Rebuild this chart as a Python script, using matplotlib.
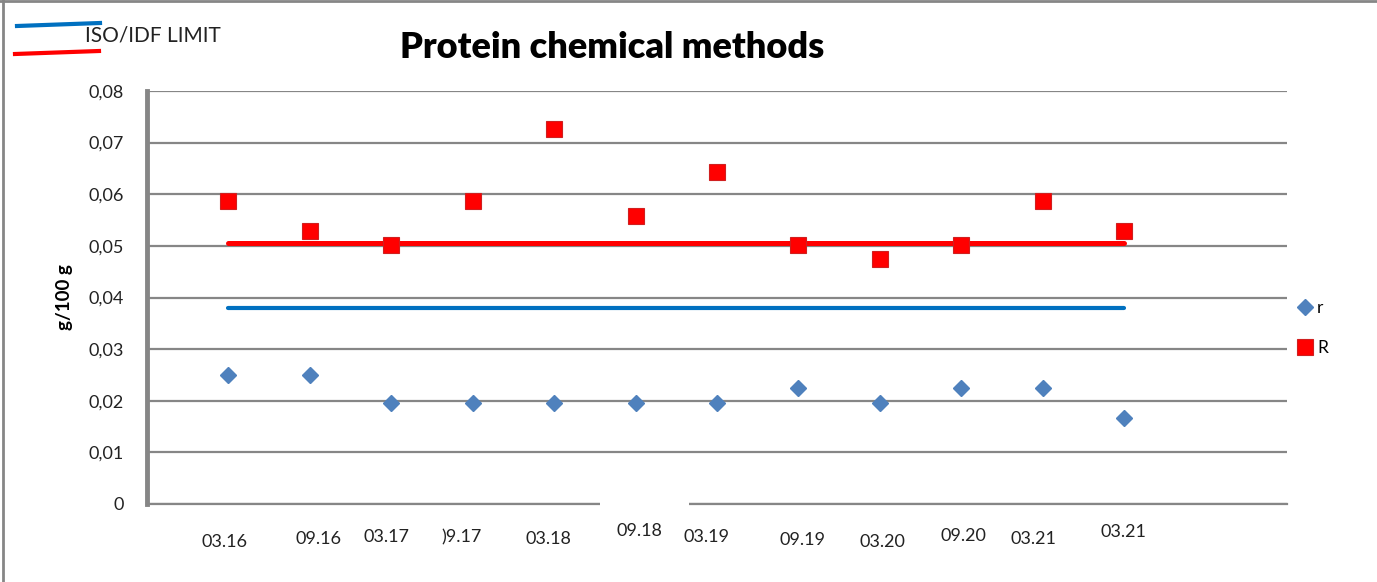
import numpy as np
import matplotlib
matplotlib.use("Agg")
import matplotlib.pyplot as plt
from matplotlib.lines import Line2D
from matplotlib.patches import Rectangle

plt.rcParams['font.family'] = ['Lato', 'DejaVu Sans']

# data
labels = ["03.16", "09.16", "03.17", ")9.17", "03.18", "09.18",
          "03.19", "09.19", "03.20", "09.20", "03.21", "03.21"]
r_vals = [0.0250, 0.0250, 0.0196, 0.0196, 0.0196, 0.0196,
          0.0196, 0.0225, 0.0196, 0.0225, 0.0225, 0.0167]
R_vals = [0.0587, 0.0529, 0.0502, 0.0587, 0.0727, 0.0558,
          0.0643, 0.0502, 0.0475, 0.0502, 0.0587, 0.0529]
r_limit = 0.038
R_limit = 0.0505
yticks = [0, 0.01, 0.02, 0.03, 0.04, 0.05, 0.06, 0.07, 0.08]

# hand placed category labels (pixel centres in the original)
lab_px = [224, 318, 387, 462, 548, 639, 707, 803, 882, 963, 1033, 1123]
lab_py = [542, 539, 537, 537, 539, 531, 537, 540, 542, 536, 539, 532]

W, H = 1377, 582
def fx(x):
    return x / W
def fy(y):
    return 1 - y / H

fig = plt.figure(figsize=(W / 100, H / 100), dpi=100)
ax = fig.add_axes([fx(147), fy(504), (1287 - 147) / W, (504 - 91) / H])

x = np.arange(1, len(labels) + 1)
grey = '#868686'

ax.plot(x, r_vals, 'D', color='#4F81BD', ms=8, mec='#4F81BD', ls='none', zorder=4, label='r')
ax.plot(x, R_vals, 's', color='#FF0000', ms=12, mec='#D02020', mew=0.8, ls='none', zorder=4, label='R')
ax.plot([x[0], x[-1]], [R_limit, R_limit], color='#FF0000', lw=3.6, solid_capstyle='round', zorder=3)
ax.plot([x[0], x[-1]], [r_limit, r_limit], color='#0070C0', lw=3.0, solid_capstyle='round', zorder=3)

ax.set_xlim(0, 14)
ax.set_ylim(0, 0.08)
ax.set_yticks(yticks)
ax.set_yticklabels(['0' if v == 0 else ('%.2f' % v).replace('.', ',') for v in yticks])
ax.set_xticks([])
ax.tick_params(axis='y', length=0, pad=17, labelsize=13, labelcolor='#222222')
ax.yaxis.grid(True, color=grey, lw=1.6)
ax.set_axisbelow(True)
for s in ['top', 'right']:
    ax.spines[s].set_visible(False)
ax.spines['left'].set_color(grey)
ax.spines['left'].set_linewidth(3.5)
ax.spines['bottom'].set_color(grey)
ax.spines['bottom'].set_linewidth(1.6)

ax.set_ylabel('g/100 g', fontsize=13.5, fontweight='bold')
ax.yaxis.set_label_coords((73 - 147) / (1287 - 147), 0.5)

# category labels
for lab, px, py in zip(labels, lab_px, lab_py):
    fig.text(fx(px), fy(py), lab, ha='center', va='center', fontsize=13, color='#222222')

# white box over the axis under 09.18
fig.add_artist(Rectangle((fx(600), fy(520)), (689 - 600) / W, 18 / H,
                         transform=fig.transFigure, facecolor='white', edgecolor='none', zorder=5))

fig.text(fx(612), fy(48), 'Protein chemical methods', ha='center', va='center',
         fontsize=26, fontweight='heavy')

# top-left legend
fig.add_artist(Line2D([fx(17), fx(100)], [fy(26), fy(23)], color='#0070C0', lw=3))
fig.add_artist(Line2D([fx(15), fx(99)], [fy(54), fy(51)], color='#FF0000', lw=3))
fig.text(fx(85), fy(35), 'ISO/IDF LIMIT', ha='left', va='center', fontsize=15, color='#222222')

ax.legend(loc='center left', bbox_to_anchor=(fx(1298), fy(328)), bbox_transform=fig.transFigure,
          frameon=False, fontsize=12.5, handlelength=0.8, handletextpad=0.3, labelspacing=1.35,
          borderpad=0, borderaxespad=0)

# frame on the left and top of the picture
fig.add_artist(Line2D([fx(2.5), fx(2.5)], [0, 1], color=grey, lw=2))
fig.add_artist(Line2D([0, 1], [fy(1), fy(1)], color=grey, lw=2))

fig.savefig('out.png', dpi=100)
